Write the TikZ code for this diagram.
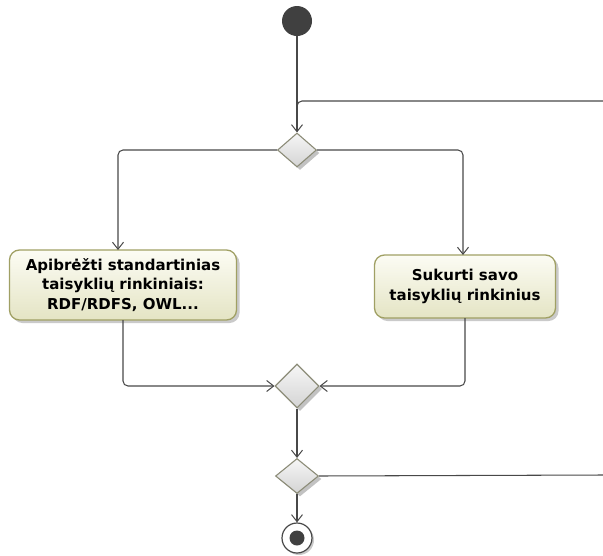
\documentclass[tikz,border=0pt]{standalone}
\usepackage{fontspec}
\setmainfont{DejaVu Sans}
\usetikzlibrary{arrows.meta,shapes.geometric,shadows}
\definecolor{lineC}{RGB}{72,72,72}
\definecolor{startC}{RGB}{64,64,64}
\definecolor{boxBorder}{RGB}{160,160,100}
\definecolor{boxTop}{RGB}{252,252,244}
\definecolor{boxBot}{RGB}{228,228,196}
\definecolor{diaBorder}{RGB}{140,140,120}
\definecolor{diaTop}{RGB}{246,246,246}
\definecolor{diaBot}{RGB}{212,212,212}
\tikzset{
  conn/.style={draw=lineC, line width=1.05pt, rounded corners=5pt},
  arr/.style={conn, -{Straight Barb[length=7pt,width=11pt,line width=1pt]}},
  action/.style={draw=boxBorder, line width=1.3pt, rounded corners=10pt,
    top color=boxTop, bottom color=boxBot, align=center,
    font=\fontsize{15}{19.5}\selectfont\bfseries, inner sep=0pt,
    drop shadow={shadow xshift=3pt, shadow yshift=-3pt, fill=black!35, opacity=0.6}},
  decision/.style={diamond, draw=diaBorder, line width=1.1pt, inner sep=0pt,
    top color=diaTop, bottom color=diaBot, shape aspect=1,
    drop shadow={shadow xshift=3pt, shadow yshift=-3pt, fill=black!40, opacity=0.6}},
  initial/.style={circle, fill=startC, minimum size=30pt, inner sep=0pt},
  final/.style={circle, draw=lineC, line width=1.2pt, fill=white, minimum size=30pt, inner sep=0pt,
    drop shadow={shadow xshift=2pt, shadow yshift=-2pt, fill=black!35, opacity=0.6}},
}
\begin{document}
\begin{tikzpicture}[x=1pt,y=-1pt]
\useasboundingbox (0,0) rectangle (603,555);
\node[initial] (start) at (297,21) {};
\node[decision, minimum width=39pt, minimum height=34pt] (d1) at (297,150) {};
\node[action, minimum width=227pt, minimum height=70pt] (A) at (123,285) {Apibrėžti standartinias\\taisyklių rinkiniais:\\RDF/RDFS, OWL...};
\node[action, minimum width=181pt, minimum height=63pt] (B) at (465,286.5) {Sukurti savo\\taisyklių rinkinius};
\node[decision, minimum width=44pt, minimum height=44pt] (d2) at (297,386) {};
\node[decision, minimum width=43pt, minimum height=35pt] (d3) at (297,476) {};
\node[final] (end) at (297,538) {};
\node[circle, fill=startC, minimum size=15pt, inner sep=0pt] (endin) at (end) {};
\coordinate (loopIn) at (603,101);
\coordinate (loopJoin) at (297,112);
\coordinate (loopOut) at (603,475);
\coordinate (aTop) at (118,250);
\coordinate (bTop) at (463,255);
\coordinate (aBot) at (123,320);
\coordinate (bBot) at (465,318);

\draw[arr] (start) -- (d1.north);
\draw[conn] (loopIn) -- (297,101) -- (loopJoin);
\draw[arr] (d1.west) -| (aTop);
\draw[arr] (d1.east) -| (bTop);
\draw[arr] (aBot) |- (d2.west);
\draw[arr] (bBot) |- (d2.east);
\draw[arr] (d2.south) -- (d3.north);
\draw[conn] (d3.east) -- (loopOut);
\draw[arr] (d3.south) -- (end.north);
\end{tikzpicture}
\end{document}
